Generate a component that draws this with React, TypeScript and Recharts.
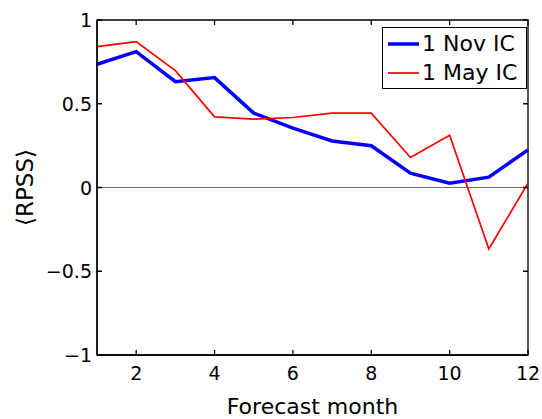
import React from 'react';
import { LineChart, Line, XAxis, YAxis, ReferenceLine, ReferenceArea, Legend } from 'recharts';

// forecast months and skill scores
const months = [1, 2, 3, 4, 5, 6, 7, 8, 9, 10, 11, 12];
const novIC = [0.736, 0.811, 0.632, 0.656, 0.444, 0.355, 0.278, 0.249, 0.086, 0.026, 0.062, 0.225];
const mayIC = [0.841, 0.871, 0.698, 0.422, 0.408, 0.418, 0.444, 0.444, 0.179, 0.312, -0.367, 0.026];

const xTicks = [2, 4, 6, 8, 10, 12];
const yTicks = [-1, -0.5, 0, 0.5, 1];

const seriesInfo = [
  { key: 'nov', name: '1 Nov IC', color: '#0000ff', width: 3.5 },
  { key: 'may', name: '1 May IC', color: '#ff0000', width: 1.7 },
];

const data = months.map((m, i) => ({ month: m, nov: novIC[i], may: mayIC[i] }));

const W = 542;
const H = 419;
const MARGIN = { top: 20, right: 14, left: 0, bottom: 0 };
const PLOT_TOP = MARGIN.top;
const PLOT_RIGHT = W - MARGIN.right;

const FONT = '"DejaVu Sans", Arial, Helvetica, sans-serif';
const TICK = 5;

const fmt = (v: number) => (v < 0 ? '\u2212' + Math.abs(v) : String(v));

// bottom tick + mirrored tick on the top edge
const BottomTick = (props: any) => {
  const { x, y, payload } = props;
  return (
    <g>
      <path d={`M${x},${y}V${y - TICK}M${x},${PLOT_TOP}V${PLOT_TOP + TICK}`} stroke="#000" strokeWidth={1.3} fill="none" />
      <text x={x} y={y + 25} textAnchor="middle" fontSize={19} fontFamily={FONT} fill="#000">
        {payload.value}
      </text>
    </g>
  );
};

// left tick + mirrored tick on the right edge
const LeftTick = (props: any) => {
  const { x, y, payload } = props;
  return (
    <g>
      <path d={`M${x},${y}H${x + TICK}M${PLOT_RIGHT},${y}H${PLOT_RIGHT - TICK}`} stroke="#000" strokeWidth={1.3} fill="none" />
      <text x={x - 5} y={y + 7} textAnchor="end" fontSize={19} fontFamily={FONT} fill="#000">
        {fmt(payload.value)}
      </text>
    </g>
  );
};

const YLabel = (props: any) => {
  const { viewBox } = props;
  const cy = viewBox.y + viewBox.height / 2;
  return (
    <text
      x={25}
      y={cy}
      transform={`rotate(-90, 25, ${cy})`}
      textAnchor="middle"
      dominantBaseline="central"
      fontSize={23}
      fontFamily={FONT}
      fill="#000"
    >
      {'\u27E8RPSS\u27E9'}
    </text>
  );
};

const renderLegend = () => (
  <div
    style={{
      border: '1px solid #000',
      background: '#fff',
      width: 145,
      height: 62,
      boxSizing: 'border-box',
      padding: '1px 0 0 5px',
      fontFamily: FONT,
      fontSize: 22,
      color: '#000',
      lineHeight: '28px',
    }}
  >
    {seriesInfo.map(s => (
      <div key={s.key} style={{ display: 'flex', alignItems: 'center', height: 29 }}>
        <svg width={31} height={10} style={{ marginRight: 3 }}>
          <line x1={0} x2={31} y1={5} y2={5} stroke={s.color} strokeWidth={s.width} />
        </svg>
        <span>{s.name}</span>
      </div>
    ))}
  </div>
);

export default function App() {
  return (
    <div style={{ position: 'absolute', left: 0, top: 0, background: '#fff' }}>
      <LineChart width={W} height={H} data={data} margin={MARGIN}>
        <XAxis
          dataKey="month"
          type="number"
          domain={[1, 12]}
          ticks={xTicks}
          tick={<BottomTick />}
          tickLine={false}
          tickSize={0}
          tickMargin={0}
          height={64}
          axisLine={{ stroke: '#000', strokeWidth: 1.3 }}
          label={{ value: 'Forecast month', position: 'insideBottom', offset: 5, fontSize: 22, fontFamily: FONT, fill: '#000' }}
        />
        <YAxis
          type="number"
          domain={[-1, 1]}
          ticks={yTicks}
          tick={<LeftTick />}
          tickLine={false}
          tickSize={0}
          tickMargin={0}
          width={97}
          axisLine={{ stroke: '#000', strokeWidth: 1.3 }}
          label={<YLabel />}
        />
        {/* frame around the plot area */}
        <ReferenceArea
          x1={1}
          x2={12}
          y1={-1}
          y2={1}
          stroke="#000"
          strokeWidth={1.3}
          fill="none"
          fillOpacity={0}
          strokeOpacity={1}
          ifOverflow="visible"
        />
        <ReferenceLine y={0} stroke="#707070" strokeWidth={1.2} />
        {seriesInfo.map(s => (
          <Line
            key={s.key}
            dataKey={s.key}
            name={s.name}
            stroke={s.color}
            strokeWidth={s.width}
            dot={false}
            isAnimationActive={false}
            strokeLinejoin="miter"
          />
        ))}
        <Legend
          layout="horizontal"
          verticalAlign="middle"
          align="center"
          content={renderLegend}
          wrapperStyle={{ position: 'absolute', left: 382, top: 27, width: 145, height: 62 }}
        />
      </LineChart>
    </div>
  );
}
